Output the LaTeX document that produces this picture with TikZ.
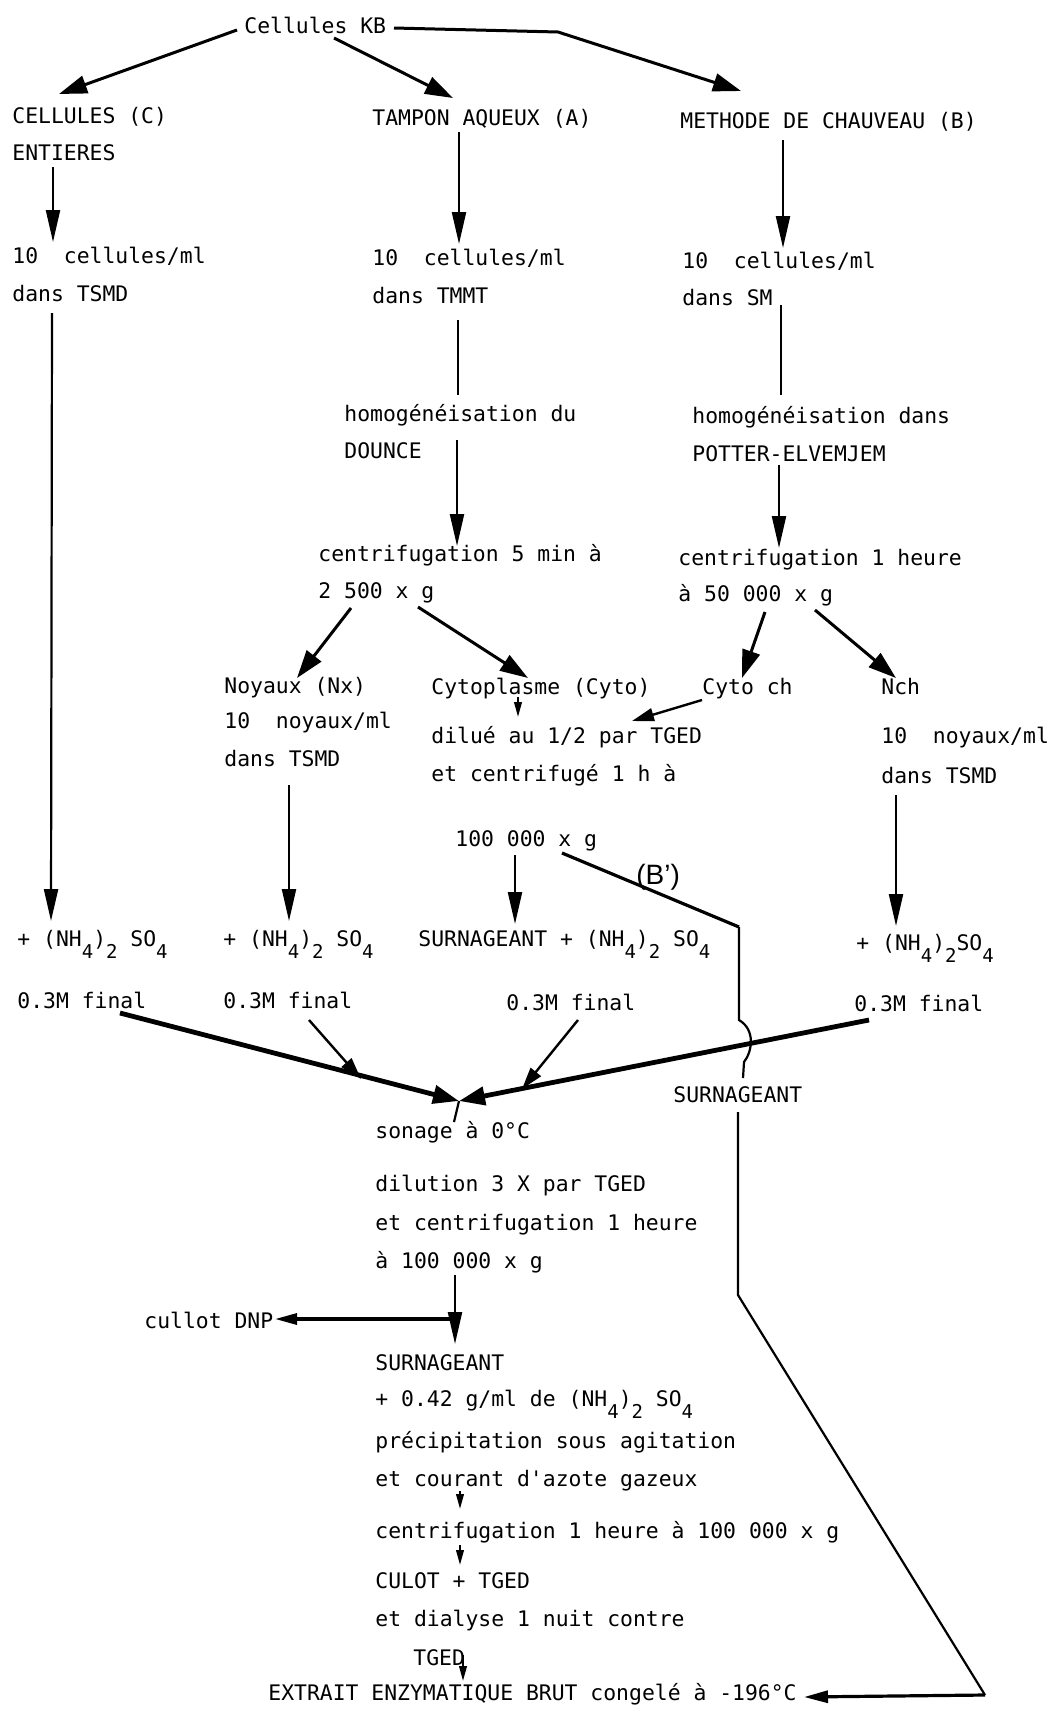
\documentclass[tikz,border=0pt]{standalone}
\usepackage{fontspec}
\usetikzlibrary{arrows.meta}
\newfontfamily\tfont{DejaVu Sans Mono}
\newfontfamily\bpfont{Liberation Sans}
\newcommand\lo[1]{\raisebox{-6pt}{\fontsize{9.5}{10}\selectfont #1}}
\tikzset{
  lbl/.style={anchor=base west, inner sep=0pt, font=\tfont\fontsize{10.7}{12}\selectfont},
  ln/.style={line width=1.1pt},
  va/.style={line width=1.1pt, -{Triangle[length=16pt,width=7pt]}},
  da/.style={line width=1.5pt, -{Triangle[length=14pt,width=9pt]}},
  ma/.style={line width=1.2pt, -{Triangle[length=11pt,width=6.5pt]}},
  ta/.style={line width=2.4pt, -{Triangle[length=13pt,width=9pt]}},
  sa/.style={line width=1pt, -{Triangle[length=7.5pt,width=3.8pt]}},
}
\begin{document}
\begin{tikzpicture}[x=0.5pt,y=-0.5pt]
\fill[white] (0,0) rectangle (1048,1709);
\useasboundingbox (0,0) rectangle (1048,1709);

% ---- text nodes ----
\node[lbl] (kb) at (244,33) {Cellules KB};
\node[lbl] (ce1) at (12,123) {CELLULES (C)};
\node[lbl] (ce2) at (12,160) {ENTIERES};
\node[lbl] (ta) at (372,125) {TAMPON AQUEUX (A)};
\node[lbl] (mb) at (680,128) {METHODE DE CHAUVEAU (B)};

\node[lbl] (c1) at (12,263) {10\ \ cellules/ml};
\node[lbl] (c2) at (12,301) {dans TSMD};
\node[lbl] (a1) at (372,265) {10\ \ cellules/ml};
\node[lbl] (a2) at (372,303) {dans TMMT};
\node[lbl] (b1) at (682,268) {10\ \ cellules/ml};
\node[lbl] (b2) at (682,305) {dans SM};

\node[lbl] (ha1) at (344,421) {homogénéisation du};
\node[lbl] (ha2) at (344,458) {DOUNCE};
\node[lbl] (hb1) at (692,423) {homogénéisation dans};
\node[lbl] (hb2) at (692,461) {POTTER-ELVEMJEM};

\node[lbl] (ca1) at (318,561) {centrifugation 5 min à};
\node[lbl] (ca2) at (318,598) {2 500 x g};
\node[lbl] (cb1) at (678,565) {centrifugation 1 heure};
\node[lbl] (cb2) at (678,601) {à 50 000 x g};

\node[lbl] (nx1) at (224,693) {Noyaux (Nx)};
\node[lbl] (nx2) at (224,728) {10\ \ noyaux/ml};
\node[lbl] (nx3) at (224,766) {dans TSMD};
\node[lbl] (cy) at (431,694) {Cytoplasme (Cyto)};
\node[lbl] (cych) at (702,694) {Cyto ch};
\node[lbl] (nch) at (881,694) {Nch};
\node[lbl] (dl1) at (431,743) {dilué au 1/2 par TGED};
\node[lbl] (dl2) at (431,781) {et centrifugé 1 h à};
\node[lbl] (nc2) at (881,743) {10\ \ noyaux/ml};
\node[lbl] (nc3) at (881,783) {dans TSMD};
\node[lbl] (g100) at (455,846) {100 000 x g};
\node[anchor=base west, inner sep=0pt, font=\bpfont\fontsize{14}{15}\selectfont] (bp) at (636,884) {(B’)};

\node[lbl] (nh1) at (17,946) {+ (NH\lo{4})\lo{2} SO\lo{4}};
\node[lbl] (nh2) at (223,946) {+ (NH\lo{4})\lo{2} SO\lo{4}};
\node[lbl] (nh3) at (418,946) {SURNAGEANT + (NH\lo{4})\lo{2} SO\lo{4}};
\node[lbl] (nh4) at (856,950) {+ (NH\lo{4})\lo{2}SO\lo{4}};
\node[lbl] (f1) at (17,1008) {0.3M final};
\node[lbl] (f2) at (223,1008) {0.3M final};
\node[lbl] (f3) at (506,1010) {0.3M final};
\node[lbl] (f4) at (854,1011) {0.3M final};

\node[lbl] (sr) at (673,1102) {SURNAGEANT};
\node[lbl] (so) at (375,1138) {sonage à 0°C};
\node[lbl] (d31) at (375,1191) {dilution 3 X par TGED};
\node[lbl] (d32) at (375,1230) {et centrifugation 1 heure};
\node[lbl] (d33) at (375,1268) {à 100 000 x g};
\node[lbl] (dnp) at (144,1328) {cullot DNP};
\node[lbl] (s2) at (375,1370) {SURNAGEANT};
\node[lbl] (p1) at (375,1406) {+ 0.42 g/ml de (NH\lo{4})\lo{2} SO\lo{4}};
\node[lbl] (p2) at (375,1448) {précipitation sous agitation};
\node[lbl] (p3) at (375,1486) {et courant d'azote gazeux};
\node[lbl] (p4) at (375,1538) {centrifugation 1 heure à 100 000 x g};
\node[lbl] (p5) at (375,1588) {CULOT + TGED};
\node[lbl] (p6) at (375,1626) {et dialyse 1 nuit contre};
\node[lbl] (p7) at (413,1665) {TGED};
\node[lbl] (ex) at (268,1700) {EXTRAIT ENZYMATIQUE BRUT congelé à -196°C};

% ---- connector end points ----
\coordinate (kbL) at (237,30);
\coordinate (kbM) at (334,38);
\coordinate (kbR) at (394,28);
\coordinate (kbK) at (558,32);
\coordinate (ceT) at (59,94);
\coordinate (taT) at (453,98);
\coordinate (mbT) at (741,91);
\coordinate (ceB) at (53,167);  \coordinate (c1T) at (53,242);
\coordinate (taB) at (459,132); \coordinate (a1T) at (459,244);
\coordinate (mbB) at (783,140); \coordinate (b1T) at (783,248);
\coordinate (c2B) at (52,313);  \coordinate (nh1T) at (51,921);
\coordinate (a2B) at (458,320); \coordinate (ha1T) at (458,395);
\coordinate (b2B) at (781,305); \coordinate (hb1T) at (781,395);
\coordinate (ha2B) at (457,440); \coordinate (ca1T) at (457,546);
\coordinate (hb2B) at (779,465); \coordinate (cb1T) at (779,548);
\coordinate (ca2L) at (351,608); \coordinate (nx1T) at (297,678);
\coordinate (ca2R) at (418,607); \coordinate (cyT) at (528,678);
\coordinate (cb2L) at (765,612); \coordinate (cychT) at (742,678);
\coordinate (cb2R) at (815,610); \coordinate (nchT) at (896,678);
\coordinate (cyB) at (518,697);  \coordinate (dl1T) at (518,717);
\coordinate (cychB) at (702,700); \coordinate (dl1R) at (632,721);
\coordinate (nx3B) at (289,785); \coordinate (nh2T) at (289,921);
\coordinate (nc3B) at (896,795); \coordinate (nh4T) at (896,926);
\coordinate (gB) at (515,855);   \coordinate (nh3T) at (515,924);
\coordinate (gR) at (562,853);   \coordinate (bk) at (739,927);
\coordinate (br1) at (739,1020); \coordinate (br2) at (744,1062);
\coordinate (srT) at (743,1078);
\coordinate (meet) at (459,1101);
\coordinate (f1S) at (120,1013);
\coordinate (f2S) at (309,1020); \coordinate (f2E) at (361,1079);
\coordinate (f3S) at (578,1020); \coordinate (f3E) at (522,1089);
\coordinate (f4S) at (869,1020);
\coordinate (soT) at (454,1122);
\coordinate (srB) at (738,1112); \coordinate (bend) at (738,1295);
\coordinate (corner) at (985,1695); \coordinate (exR) at (804,1697);
\coordinate (d33B) at (455,1275); \coordinate (s2T) at (455,1344);
\coordinate (junc) at (455,1319); \coordinate (dnpR) at (275,1319);
\coordinate (p3B) at (460,1491); \coordinate (p4T) at (460,1509);
\coordinate (p4B) at (460,1545); \coordinate (p5T) at (460,1565);
\coordinate (p7B) at (463,1655); \coordinate (exT) at (463,1681);

% ---- connectors ----
\draw[da] (kbL) -- (ceT);
\draw[da] (kbM) -- (taT);
\draw[da, line join=round] (kbR) -- (kbK) -- (mbT);
\draw[va] (ceB) -- (c1T);
\draw[va] (taB) -- (a1T);
\draw[va] (mbB) -- (b1T);
\draw[va] (c2B) -- (nh1T);
\draw[ln] (a2B) -- (ha1T);
\draw[ln] (b2B) -- (hb1T);
\draw[va] (ha2B) -- (ca1T);
\draw[va] (hb2B) -- (cb1T);
\draw[da] (ca2L) -- (nx1T);
\draw[da] (ca2R) -- (cyT);
\draw[da] (cb2L) -- (cychT);
\draw[da] (cb2R) -- (nchT);
\draw[sa] (cyB) -- (dl1T);
\draw[ma] (cychB) -- (dl1R);
\draw[va] (nx3B) -- (nh2T);
\draw[va] (nc3B) -- (nh4T);
\draw[va] (gB) -- (nh3T);
\draw[line width=1.6pt] (gR) -- (bk);
\draw[line width=1.1pt] (bk) -- (br1) .. controls (756,1030) and (752,1052) .. (br2) -- (srT);
\draw[ta] (f1S) -- (meet);
\draw[ta] (f4S) -- (meet);
\draw[ma] (f2S) -- (f2E);
\draw[ma] (f3S) -- (f3E);
\draw[ln] (meet) -- (soT);
\draw[line width=1.1pt, line join=round] (srB) -- (bend) -- (corner);
\draw[line width=1.6pt, -{Triangle[length=12pt,width=6pt]}] (corner) -- (exR);
\draw[va] (d33B) -- (s2T);
\draw[line width=1.6pt, -{Triangle[length=11pt,width=5.5pt]}] (junc) -- (dnpR);
\draw[sa] (p3B) -- (p4T);
\draw[sa] (p4B) -- (p5T);
\draw[sa] (p7B) -- (exT);
\end{tikzpicture}
\end{document}
